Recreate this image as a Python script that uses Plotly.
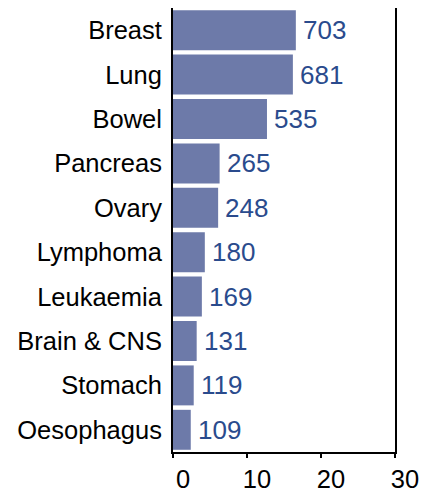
import plotly.graph_objects as go

# Cancer sites, top to bottom
sites = ["Breast", "Lung", "Bowel", "Pancreas", "Ovary",
         "Lymphoma", "Leukaemia", "Brain & CNS", "Stomach", "Oesophagus"]
# bar lengths
rates = [16.6, 16.2, 12.7, 6.3, 6.1, 4.3, 3.9, 3.2, 2.8, 2.4]
# counts printed next to the bars
counts = [703, 681, 535, 265, 248, 180, 169, 131, 119, 109]
x_ticks = [0, 10, 20, 30]

BAR_COLOR = "#6d7aa9"
LABEL_COLOR = "#2a4b8d"
FONT = "Liberation Sans, Arial, sans-serif"

fig = go.Figure(go.Bar(
    x=rates,
    y=sites,
    orientation="h",
    marker=dict(color=BAR_COLOR, line=dict(width=0)),
    hoverinfo="skip",
))

# count labels just past the end of each bar
for site, rate, n in zip(sites, rates, counts):
    fig.add_annotation(
        x=rate, y=site, text=str(n),
        xanchor="left", yanchor="middle", xshift=5,
        showarrow=False,
        font=dict(family=FONT, size=26, color=LABEL_COLOR),
    )

# page body adds an 8px margin, so the figure is a little smaller than the window
fig.update_layout(
    width=424, height=480,
    margin=dict(l=165, r=37, t=0, b=36),
    paper_bgcolor="white", plot_bgcolor="white",
    bargap=0.1,
    showlegend=False,
    font=dict(family=FONT, size=25.5, color="black"),
)
fig.update_xaxes(
    range=[0, 30], tickvals=x_ticks,
    showgrid=False, zeroline=False, automargin=False,
    showline=True, linecolor="black", linewidth=2, mirror=True,
    ticks="outside", ticklen=4, tickwidth=1.5, tickcolor="black",
    ticklabelshift=10, ticklabelstandoff=-1,
)
fig.update_yaxes(
    autorange="reversed",
    showgrid=False, zeroline=False, automargin=False,
    showline=True, linecolor="black", linewidth=2, mirror=True,
    ticks="", ticklabelstandoff=4,
)

fig.write_html("out.html")
